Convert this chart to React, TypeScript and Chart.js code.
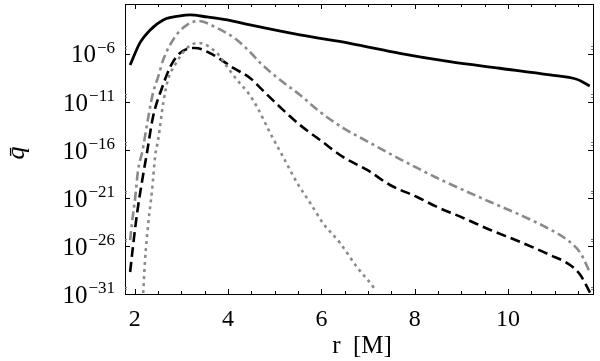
import React, { useEffect, useRef } from "react";
import { Chart, registerables } from "chart.js";

Chart.register(...registerables);

// ---- data (r in M, values stored as log10 of q̄) ----
const solidR = [1.90, 2.11, 2.33, 2.61, 2.97, 3.18, 3.55, 3.98, 4.47, 5.54, 6.61, 7.68, 8.75, 9.82, 10.90, 11.47, 11.75];
const solidLog = [-7.15, -4.85, -3.5, -2.46, -2.04, -1.94, -2.15, -2.46, -2.98, -4.02, -4.89, -5.93, -6.80, -7.49, -8.19, -8.64, -9.33];

const dashDotR = [1.90, 1.94, 2.01, 2.07, 2.16, 2.29, 2.39, 2.50, 2.61, 2.86, 3.12, 3.36, 3.76, 4.19, 4.47, 4.69, 5.11, 5.54, 5.97, 6.46, 6.98, 7.47, 8.05, 8.48, 9.04, 9.62, 10.26, 10.84, 11.27, 11.55, 11.76];
const dashDotLog = [-25.4, -23.6, -20.9, -18.1, -16.2, -12.56, -10.06, -8.4, -6.6, -4.23, -2.98, -2.56, -3.3, -4.54, -5.8, -6.94, -8.7, -10.27, -12.04, -13.7, -15.1, -16.4, -17.875, -18.92, -20.17, -21.42, -22.77, -24.125, -25.375, -26.73, -28.81];

const dashedR = [1.90, 1.96, 2.05, 2.16, 2.26, 2.39, 2.59, 2.76, 2.97, 3.29, 3.68, 4.11, 4.47, 4.69, 5.11, 5.54, 5.97, 6.46, 6.98, 7.47, 8.05, 8.48, 9.04, 9.62, 10.26, 10.90, 11.33, 11.55, 11.76];
const dashedLog = [-28.71, -26.1, -22.56, -19.125, -16.31, -12.56, -9.44, -7.35, -5.9, -5.375, -6.1, -7.46, -8.5, -9.54, -11.52, -13.4, -14.96, -16.73, -18.08, -19.65, -20.9, -21.94, -23.08, -24.33, -25.58, -26.94, -27.98, -29.02, -30.9];

const dottedR = [2.18, 2.22, 2.29, 2.37, 2.44, 2.50, 2.61, 2.71, 2.86, 3.12, 3.36, 3.76, 3.98, 4.19, 4.43, 4.62, 4.90, 5.18, 5.48, 5.76, 6.03, 6.40, 6.76, 7.11, 7.15];
const dottedLog = [-30.9, -27.46, -23.6, -20.17, -16.52, -14.96, -11.1, -8.7, -7.15, -5.375, -4.85, -5.9, -7.35, -8.7, -10.06, -11.52, -14.23, -16.73, -19.44, -21.52, -23.6, -25.69, -28.19, -30.27, -30.6];

const xTickValues = [2, 4, 6, 8, 10];
const yTickExponents = [-6, -11, -16, -21, -26, -31];
const xTitle = "r  [M]";
const yTitle = "q\u0304";

const X_MIN = 1.79;
const X_MAX = 11.82;
const Y_MIN_EXP = -31;
const Y_MAX_EXP = -0.8;

const SERIF = '"Liberation Serif", "Times New Roman", serif';

function toPoints(xs: number[], logs: number[]) {
  return xs.map((x, i) => ({ x, y: Math.pow(10, logs[i]) }));
}

const framePlugin = {
  id: "frameAndTicks",
  afterDraw(chart: any) {
    const ctx = chart.ctx as CanvasRenderingContext2D;
    const { left, right, top, bottom } = chart.chartArea;
    const xs = chart.scales.x;
    const ys = chart.scales.y;
    ctx.save();
    ctx.strokeStyle = "#000";
    ctx.lineWidth = 1;
    ctx.strokeRect(Math.round(left) + 0.5, Math.round(top) + 0.5, Math.round(right - left), Math.round(bottom - top));

    ctx.beginPath();
    // x ticks (major and minor) on bottom and top, pointing inward
    for (let v = 2; v <= 11.5 + 1e-9; v += 0.5) {
      const px = Math.round(xs.getPixelForValue(v)) + 0.5;
      const major = Math.abs(v - Math.round(v / 2) * 2) < 1e-6;
      const len = major ? 5 : 3;
      ctx.moveTo(px, bottom);
      ctx.lineTo(px, bottom - len);
      ctx.moveTo(px, top);
      ctx.lineTo(px, top + len);
    }
    // y major ticks on left and right
    for (const e of yTickExponents) {
      const py = Math.round(ys.getPixelForValue(Math.pow(10, e))) + 0.5;
      ctx.moveTo(left, py);
      ctx.lineTo(left + 5, py);
      ctx.moveTo(right, py);
      ctx.lineTo(right - 5, py);
    }
    ctx.stroke();

    // y minor ticks (faint)
    ctx.beginPath();
    ctx.strokeStyle = "#777";
    for (const e of yTickExponents) {
      for (const k of [3, 6]) {
        const pm = Math.round(ys.getPixelForValue(k * Math.pow(10, e))) + 0.5;
        ctx.moveTo(left, pm);
        ctx.lineTo(left + 2, pm);
        ctx.moveTo(right, pm);
        ctx.lineTo(right - 2, pm);
      }
    }
    ctx.stroke();

    // x tick labels
    ctx.fillStyle = "#000";
    ctx.font = `24px ${SERIF}`;
    ctx.textAlign = "center";
    ctx.textBaseline = "middle";
    for (const v of xTickValues) {
      ctx.fillText(String(v), xs.getPixelForValue(v), 320);
    }

    // y tick labels: 10 with superscript exponent
    const labelRight = 115;
    for (const e of yTickExponents) {
      const py = ys.getPixelForValue(Math.pow(10, e));
      const sup = "\u2212" + String(Math.abs(e));
      ctx.font = `17px ${SERIF}`;
      const supW = ctx.measureText(sup).width;
      ctx.textAlign = "left";
      ctx.textBaseline = "alphabetic";
      ctx.fillText(sup, labelRight - supW, py - 1);
      ctx.font = `25px ${SERIF}`;
      ctx.textAlign = "right";
      ctx.textBaseline = "middle";
      ctx.fillText("10", labelRight - supW - 1, py + 2);
    }

    // x title
    ctx.font = `25px ${SERIF}`;
    ctx.textAlign = "center";
    ctx.textBaseline = "middle";
    ctx.fillText(xTitle, (left + right) / 2 + 3, 346);

    // y title (rotated)
    ctx.translate(17, 153);
    ctx.rotate(-Math.PI / 2);
    ctx.font = `italic 26px ${SERIF}`;
    ctx.textAlign = "center";
    ctx.textBaseline = "middle";
    ctx.fillText(yTitle, 0, 0);
    ctx.restore();
  },
};

export default function App() {
  const ref = useRef<HTMLCanvasElement | null>(null);

  useEffect(() => {
    document.body.style.margin = "0";
    if (!ref.current) return;
    const common = {
      pointRadius: 0,
      fill: false,
      cubicInterpolationMode: "monotone" as const,
      borderCapStyle: "butt" as const,
    };
    const chart = new Chart(ref.current, {
      type: "line",
      data: {
        datasets: [
          { ...common, label: "dotted", data: toPoints(dottedR, dottedLog), borderColor: "#8a8a8a", borderWidth: 2.6, borderDash: [3, 4] },
          { ...common, label: "dashdot", data: toPoints(dashDotR, dashDotLog), borderColor: "#8a8a8a", borderWidth: 2.6, borderDash: [9, 4, 3, 4] },
          { ...common, label: "dashed", data: toPoints(dashedR, dashedLog), borderColor: "#000", borderWidth: 2.6, borderDash: [10, 5] },
          { ...common, label: "solid", data: toPoints(solidR, solidLog), borderColor: "#000", borderWidth: 2.8 },
        ],
      },
      options: {
        animation: false,
        responsive: false,
        maintainAspectRatio: false,
        layout: { padding: { top: 4, right: 7, left: 0, bottom: 0 } },
        plugins: { legend: { display: false }, tooltip: { enabled: false } },
        scales: {
          x: {
            type: "linear",
            min: X_MIN,
            max: X_MAX,
            grid: { display: false },
            border: { display: false },
            ticks: { display: false },
            afterFit: (s: any) => {
              s.height = 67;
            },
          },
          y: {
            type: "logarithmic",
            min: Math.pow(10, Y_MIN_EXP),
            max: Math.pow(10, Y_MAX_EXP),
            grid: { display: false },
            border: { display: false },
            ticks: { display: false },
            afterFit: (s: any) => {
              s.width = 125;
            },
          },
        },
      },
      plugins: [framePlugin],
    } as any);
    return () => chart.destroy();
  }, []);

  return <canvas ref={ref} width={600} height={361} style={{ display: "block" }} />;
}
